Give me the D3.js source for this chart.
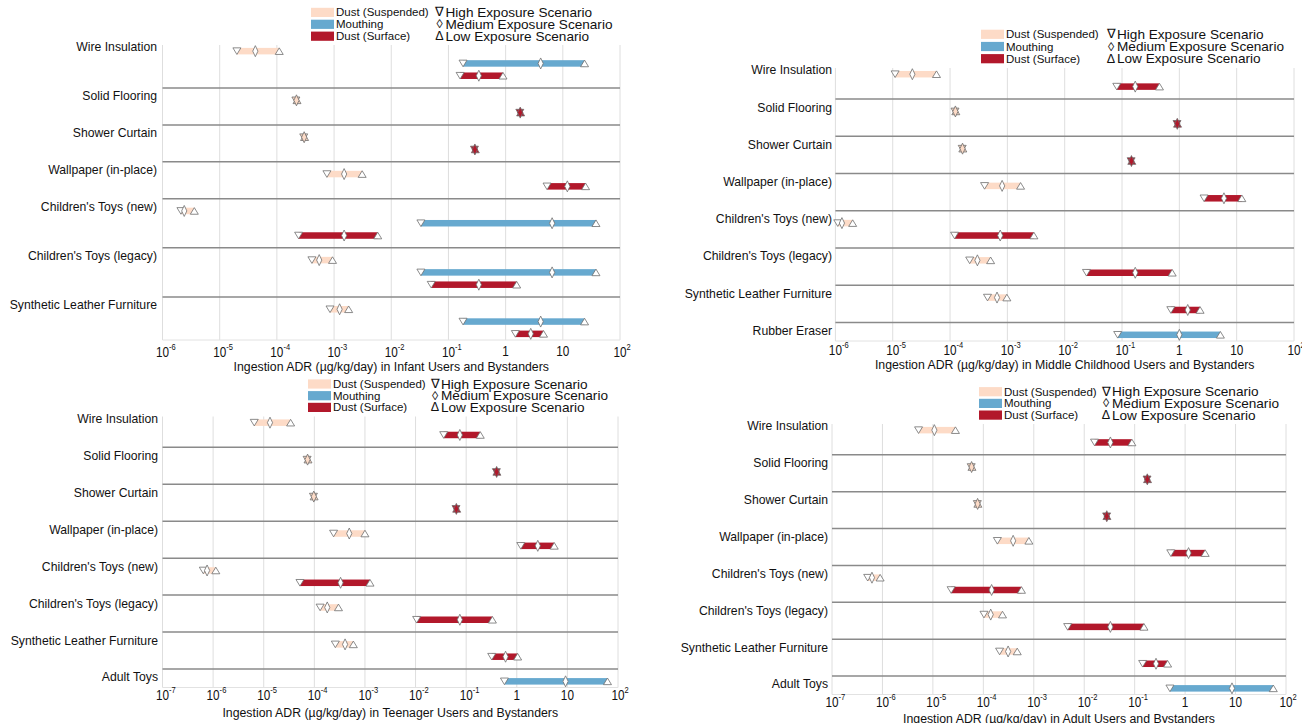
<!DOCTYPE html>
<html>
<head>
<meta charset="utf-8">
<script src="https://cdn.jsdelivr.net/npm/d3@7"></script>
<style>
  body { margin: 0; background: #fff; }
  svg text { font-family: "Liberation Sans", Arial, sans-serif; fill: #111; }
</style>
</head>
<body>
<svg id="chart" width="1302" height="723"></svg>
<script>
// Exposure pathways and scenario markers
const pathways = ["Dust (Suspended)", "Mouthing", "Dust (Surface)"];
const pathwayColors = ["#fddbc7", "#67a9cf", "#b2182b"];
const scenarios = ["High Exposure Scenario", "Medium Exposure Scenario", "Low Exposure Scenario"];
const scenarioGlyphs = ["\u2207", "\u25CA", "\u0394"];

// Products assessed for each life stage
const infantProducts = ["Wire Insulation", "Solid Flooring", "Shower Curtain", "Wallpaper (in-place)",
  "Children's Toys (new)", "Children's Toys (legacy)", "Synthetic Leather Furniture"];
const middleProducts = infantProducts.concat(["Rubber Eraser"]);
const teenProducts = infantProducts.concat(["Adult Toys"]);
const adultProducts = infantProducts.concat(["Adult Toys"]);

// Ingestion ADR (µg/kg/day) as [high, medium, low] scenario values; null = pathway not assessed
const infantSuspended = [[2.0e-5, 4.2e-5, 1.1e-4], [2.15e-4, 2.2e-4, 2.25e-4], [2.95e-4, 3.0e-4, 3.05e-4],
  [7.5e-4, 1.5e-3, 3.1e-3], [2.1e-6, 2.4e-6, 3.6e-6], [4.1e-4, 5.5e-4, 9.4e-4], [8.5e-4, 1.25e-3, 1.8e-3]];
const infantMouthing = [[0.18, 4.1, 24], null, null, null, [0.033, 6.5, 38], [0.033, 6.5, 38], [0.18, 4.1, 24]];
const infantSurface = [[0.16, 0.34, 0.9], [1.77, 1.8, 1.83], [0.285, 0.29, 0.295], [5.3, 12, 25],
  [2.4e-4, 1.5e-3, 5.8e-3], [0.05, 0.34, 1.56], [1.48, 2.75, 4.6]];

const middleSuspended = [[1.1e-5, 2.2e-5, 5.8e-5], [1.22e-4, 1.24e-4, 1.26e-4], [1.63e-4, 1.65e-4, 1.67e-4],
  [4.0e-4, 8.1e-4, 1.7e-3], [1.1e-6, 1.3e-6, 2.0e-6], [2.2e-4, 3.0e-4, 5.1e-4], [4.5e-4, 6.6e-4, 9.8e-4], null];
const middleMouthing = [null, null, null, null, null, null, null, [0.084, 1.0, 5.2]];
const middleSurface = [[0.081, 0.17, 0.45], [0.91, 0.92, 0.93], [0.144, 0.146, 0.148], [2.7, 6.0, 12.3],
  [1.2e-4, 7.5e-4, 2.9e-3], [0.024, 0.17, 0.75], [0.71, 1.4, 2.3], null];

const teenSuspended = [[6.5e-6, 1.33e-5, 3.4e-5], [7.2e-5, 7.35e-5, 7.5e-5], [9.6e-5, 9.75e-5, 9.9e-5],
  [2.4e-4, 4.9e-4, 1.0e-3], [6.4e-7, 7.6e-7, 1.13e-6], [1.3e-4, 1.8e-4, 3.0e-4], [2.6e-4, 4.05e-4, 5.9e-4], null];
const teenMouthing = [null, null, null, null, null, null, null, [0.57, 9.2, 62]];
const teenSurface = [[0.036, 0.075, 0.19], [0.395, 0.4, 0.405], [0.063, 0.064, 0.065], [1.2, 2.6, 5.5],
  [5.2e-5, 3.3e-4, 1.26e-3], [0.0105, 0.075, 0.33], [0.32, 0.6, 1.04], null];

const adultSuspended = [[5.2e-6, 1.07e-5, 2.8e-5], [5.75e-5, 5.85e-5, 5.95e-5], [7.6e-5, 7.7e-5, 7.8e-5],
  [1.9e-4, 3.9e-4, 8.0e-4], [5.1e-7, 6.2e-7, 9.0e-7], [1.03e-4, 1.4e-4, 2.4e-4], [2.1e-4, 3.1e-4, 4.7e-4], null];
const adultMouthing = [null, null, null, null, null, null, null, [0.5, 8.5, 56]];
const adultSurface = [[0.016, 0.033, 0.088], [0.176, 0.178, 0.18], [0.0278, 0.028, 0.0282], [0.52, 1.17, 2.5],
  [2.3e-5, 1.46e-4, 5.7e-4], [4.7e-3, 0.033, 0.153], [0.144, 0.265, 0.45], null];

// Decade exponents shown on the log axes
const tickExponentsFrom6 = [-6, -5, -4, -3, -2, -1, 0, 1, 2];
const tickExponentsFrom7 = [-7, -6, -5, -4, -3, -2, -1, 0, 1, 2];

const panels = [
  { products: infantProducts, series: [infantSuspended, infantMouthing, infantSurface], exps: tickExponentsFrom6,
    title: "Ingestion ADR (\u00B5g/kg/day) in Infant Users and Bystanders",
    x0: 162.5, x1: 620, top: 45, bottom: 340, labelX: 157,
    legendX: 311, legendY: 12.4, legendGap: 11.9, symX: 439.5, tickY: 351.5, titleY: 367 },
  { products: middleProducts, series: [middleSuspended, middleMouthing, middleSurface], exps: tickExponentsFrom6,
    title: "Ingestion ADR (\u00B5g/kg/day) in Middle Childhood Users and Bystanders",
    x0: 835.4, x1: 1294, top: 68, bottom: 341, labelX: 832,
    legendX: 981, legendY: 34.3, legendGap: 12.2, symX: 1111, tickY: 350, titleY: 364.5 },
  { products: teenProducts, series: [teenSuspended, teenMouthing, teenSurface], exps: tickExponentsFrom7,
    title: "Ingestion ADR (\u00B5g/kg/day) in Teenager Users and Bystanders",
    x0: 162.5, x1: 618, top: 416.5, bottom: 687.5, labelX: 158,
    legendX: 308, legendY: 384, legendGap: 11.7, symX: 435, tickY: 695, titleY: 712.5 },
  { products: adultProducts, series: [adultSuspended, adultMouthing, adultSurface], exps: tickExponentsFrom7,
    title: "Ingestion ADR (\u00B5g/kg/day) in Adult Users and Bystanders",
    x0: 832, x1: 1286, top: 424, bottom: 694.5, labelX: 828,
    legendX: 979, legendY: 391.7, legendGap: 11.7, symX: 1106, tickY: 702, titleY: 718.5 }
];

// Marker outlines, centred on the value
const markerPaths = [
  "M-4,-3.3L4,-3.3L0,3.3Z",          // high: downward triangle
  "M0,-5.5L2.6,0L0,5.5L-2.6,0Z",      // medium: diamond
  "M-4,3.3L4,3.3L0,-3.3Z"             // low: upward triangle
];
const barHeight = 6.5;

const svg = d3.select("#chart");

panels.forEach(p => {
  const g = svg.append("g");

  // Lay out rows: one row per assessed pathway, one separator slot between products
  const rows = [], seps = [], labels = [];
  let slot = 0;
  p.products.forEach((prod, i) => {
    if (i > 0) { seps.push(slot); }
    let first = null;
    pathways.forEach((pw, k) => {
      const v = p.series[k][i];
      if (v) {
        slot += 1;
        if (first === null) first = slot;
        rows.push({ slot, pathway: k, values: v });
      }
    });
    labels.push({ name: prod, slot: first });
    slot += 1;
  });
  const lastRow = slot - 1;

  const x = d3.scaleLog().domain([Math.pow(10, p.exps[0]), Math.pow(10, p.exps[p.exps.length - 1])]).range([p.x0, p.x1]);
  const y = d3.scaleLinear().domain([0.5, lastRow + 0.5]).range([p.top, p.bottom]);
  const tickValues = p.exps.map(e => Math.pow(10, e));

  // Vertical decade gridlines
  g.append("g").selectAll("line").data(tickValues).join("line")
    .attr("x1", d => x(d)).attr("x2", d => x(d))
    .attr("y1", p.top).attr("y2", p.bottom)
    .attr("stroke", "#dedede").attr("stroke-width", 1);

  // Bottom edge of the plotting area
  g.append("line").attr("x1", p.x0).attr("x2", p.x1).attr("y1", p.bottom).attr("y2", p.bottom)
    .attr("stroke", "#e2e2e2").attr("stroke-width", 1);

  // Product separators
  g.append("g").selectAll("line").data(seps).join("line")
    .attr("x1", p.x0).attr("x2", p.x1)
    .attr("y1", d => y(d)).attr("y2", d => y(d))
    .attr("stroke", "#8a8a8a").attr("stroke-width", 1.5);

  // Product labels
  g.append("g").selectAll("text").data(labels).join("text")
    .attr("transform", d => `translate(${p.labelX},${y(d.slot) - 4}) scale(0.94,1)`)
    .attr("text-anchor", "end").attr("dominant-baseline", "central")
    .attr("font-size", 13).text(d => d.name);

  // Range bars from high to low scenario
  const rowG = g.append("g").selectAll("g").data(rows).join("g");
  rowG.append("rect")
    .attr("x", d => x(d.values[0]))
    .attr("width", d => Math.max(0, x(d.values[2]) - x(d.values[0])))
    .attr("y", d => y(d.slot) - barHeight / 2).attr("height", barHeight)
    .attr("fill", d => pathwayColors[d.pathway]);

  // Scenario markers: high, low, then medium on top.
  // Where all three scenarios coincide the markers take the pathway colour.
  const collapsed = d => x(d.values[2]) - x(d.values[0]) < 3;
  [0, 2, 1].forEach(s => {
    rowG.append("path")
      .attr("d", markerPaths[s])
      .attr("transform", d => `translate(${x(d.values[s])},${y(d.slot)})`)
      .attr("fill", d => collapsed(d) ? pathwayColors[d.pathway] : "#fff")
      .attr("stroke", "#6e6e6e").attr("stroke-width", 0.8);
  });

  // Tick labels: powers of ten with superscript exponents
  const tl = g.append("g").selectAll("text").data(p.exps).join("text")
    .attr("transform", d => `translate(${x(Math.pow(10, d))},${p.tickY}) scale(0.84,1)`)
    .attr("font-size", 14).attr("dominant-baseline", "central");
  tl.each(function (e) {
    const t = d3.select(this);
    if (e === 0 || e === 1) {
      t.attr("text-anchor", "middle").text(e === 0 ? "1" : "10");
    } else {
      t.attr("text-anchor", "start").attr("x", -7.8);
      t.append("tspan").text("10");
      t.append("tspan").attr("font-size", 9).attr("dy", -5).text(e);
    }
  });

  // Axis title
  g.append("text").attr("x", (p.x0 + p.x1) / 2).attr("y", p.titleY)
    .attr("text-anchor", "middle").attr("dominant-baseline", "central")
    .attr("font-size", 12.3).text(p.title);

  // Legend: pathway swatches and scenario glyphs
  const lg = g.append("g");
  pathways.forEach((pw, k) => {
    const ly = p.legendY + k * p.legendGap;
    lg.append("rect").attr("x", p.legendX).attr("y", ly - 4.6).attr("width", 23).attr("height", 9.2)
      .attr("fill", pathwayColors[k]);
    lg.append("text").attr("x", p.legendX + 25).attr("y", ly).attr("dominant-baseline", "central")
      .attr("font-size", 11.5).text(pw);
  });
  scenarios.forEach((sc, k) => {
    const ly = p.legendY + k * p.legendGap;
    lg.append("text").attr("x", p.symX).attr("y", ly).attr("text-anchor", "middle")
      .attr("dominant-baseline", "central").attr("font-size", 12.5).attr("fill", "#222")
      .text(scenarioGlyphs[k]);
    lg.append("text").attr("x", p.symX + 6).attr("y", ly).attr("dominant-baseline", "central")
      .attr("font-size", 13.6).text(sc);
  });
});
</script>
</body>
</html>
